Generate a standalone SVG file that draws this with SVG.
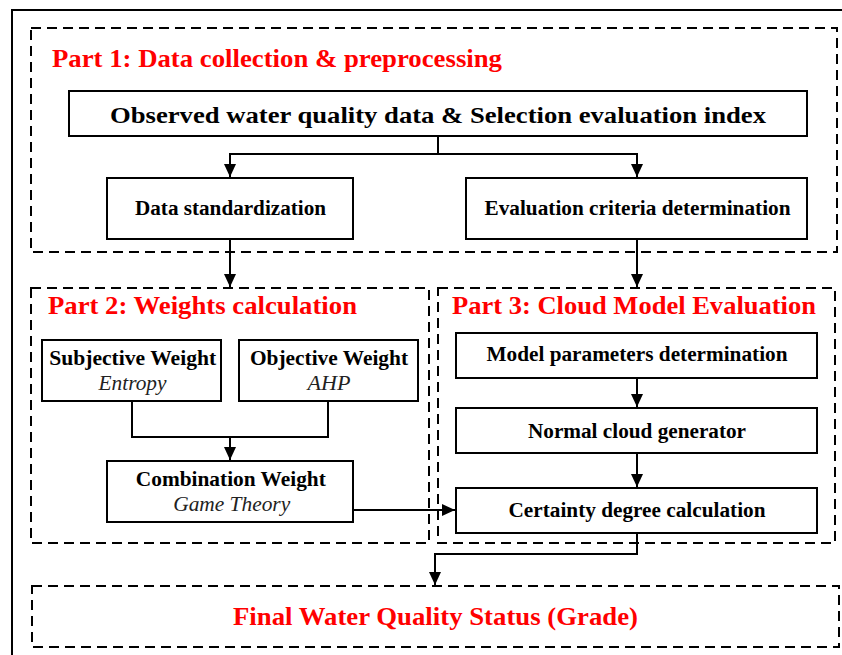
<svg xmlns="http://www.w3.org/2000/svg" width="842" height="655" viewBox="0 0 842 655">
<style>
.frame{fill:none;stroke:#000;stroke-width:2}
.dash{fill:none;stroke:#000;stroke-width:2;stroke-dasharray:10 6}
.box{fill:#fff;stroke:#000;stroke-width:2}
.con{fill:none;stroke:#000;stroke-width:2}
.title{font-family:"Liberation Serif","Times New Roman",serif;font-weight:bold;fill:#ff0000;font-size:25px}
.bt{font-family:"Liberation Serif","Times New Roman",serif;font-weight:bold;fill:#000;font-size:20px;text-anchor:middle}
.it{font-family:"Liberation Serif","Times New Roman",serif;font-style:italic;fill:#222;font-size:20px;text-anchor:middle}
</style>
<defs>
<marker id="arr" markerUnits="userSpaceOnUse" markerWidth="14" markerHeight="14" refX="13" refY="6" orient="auto">
<path d="M0,0 L13,6 L0,12 z" fill="#000"/>
</marker>
</defs>
<rect x="0" y="0" width="842" height="655" fill="#fff"/>
<rect class="frame" x="12" y="10" width="840" height="660"/>

<g id="part1">
<rect class="dash" x="31" y="28" width="806" height="224"/>
<text class="title" x="52" y="67" textLength="450" lengthAdjust="spacingAndGlyphs">Part 1: Data collection &amp; preprocessing</text>
</g>
<g id="part2">
<rect class="dash" x="31" y="288" width="398" height="255"/>
<text class="title" x="48" y="314" textLength="309" lengthAdjust="spacingAndGlyphs">Part 2: Weights calculation</text>
</g>
<g id="part3">
<rect class="dash" x="438" y="288" width="397" height="255"/>
<text class="title" x="452" y="314" textLength="364" lengthAdjust="spacingAndGlyphs">Part 3: Cloud Model Evaluation</text>
</g>
<g id="final">
<rect class="dash" x="32" y="586" width="807" height="61"/>
<text class="title" x="435.5" y="625" text-anchor="middle" textLength="405" lengthAdjust="spacingAndGlyphs">Final Water Quality Status (Grade)</text>
</g>

<g id="observed">
<rect class="box" x="69" y="91" width="738" height="45"/>
<text class="bt" x="438" y="123" style="font-size:24px" textLength="656" lengthAdjust="spacingAndGlyphs">Observed water quality data &amp; Selection evaluation index</text>
</g>
<g id="standardization">
<rect class="box" x="107" y="178" width="246" height="61"/>
<text class="bt" x="230.5" y="215" textLength="191" lengthAdjust="spacingAndGlyphs">Data standardization</text>
</g>
<g id="criteria">
<rect class="box" x="466" y="178" width="341" height="61"/>
<text class="bt" x="637.5" y="215" textLength="306" lengthAdjust="spacingAndGlyphs">Evaluation criteria determination</text>
</g>
<g id="subjective">
<rect class="box" x="42" y="340" width="179" height="61"/>
<text class="bt" x="132.7" y="365" style="font-size:21px" textLength="167" lengthAdjust="spacingAndGlyphs">Subjective Weight</text>
<text class="it" x="132.5" y="390" textLength="68" lengthAdjust="spacingAndGlyphs">Entropy</text>
</g>
<g id="objective">
<rect class="box" x="239" y="340" width="179" height="61"/>
<text class="bt" x="329" y="365" style="font-size:21px" textLength="158" lengthAdjust="spacingAndGlyphs">Objective Weight</text>
<text class="it" x="329" y="390" textLength="43" lengthAdjust="spacingAndGlyphs">AHP</text>
</g>
<g id="combination">
<rect class="box" x="107" y="461" width="246" height="61"/>
<text class="bt" x="230.8" y="486" style="font-size:21px" textLength="190" lengthAdjust="spacingAndGlyphs">Combination Weight</text>
<text class="it" x="231.7" y="511" textLength="117" lengthAdjust="spacingAndGlyphs">Game Theory</text>
</g>
<g id="modelparams">
<rect class="box" x="456" y="333" width="361" height="45"/>
<text class="bt" x="637" y="361" textLength="301" lengthAdjust="spacingAndGlyphs">Model parameters determination</text>
</g>
<g id="normalcloud">
<rect class="box" x="456" y="408" width="361" height="45"/>
<text class="bt" x="637" y="438" textLength="218" lengthAdjust="spacingAndGlyphs">Normal cloud generator</text>
</g>
<g id="certainty">
<rect class="box" x="456" y="488" width="361" height="45"/>
<text class="bt" x="637" y="517" textLength="257" lengthAdjust="spacingAndGlyphs">Certainty degree calculation</text>
</g>

<g id="connectors">
<path class="con" d="M438,136 V154 H230 V177" marker-end="url(#arr)"/>
<path class="con" d="M438,154 H637 V177" marker-end="url(#arr)"/>
<path class="con" d="M230,239 V287" marker-end="url(#arr)"/>
<path class="con" d="M637,239 V287" marker-end="url(#arr)"/>
<path class="con" d="M132,401 V437 H328 V401"/>
<path class="con" d="M230,437 V460" marker-end="url(#arr)"/>
<path class="con" d="M353,510 H455" marker-end="url(#arr)"/>
<path class="con" d="M637,378 V407" marker-end="url(#arr)"/>
<path class="con" d="M637,453 V487" marker-end="url(#arr)"/>
<path class="con" d="M637,533 V554 H435 V585" marker-end="url(#arr)"/>
</g>
</svg>
